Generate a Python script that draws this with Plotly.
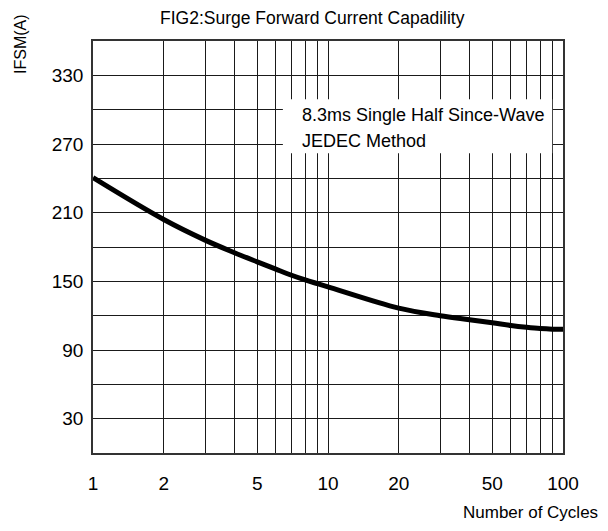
import plotly.graph_objects as go

# data
cycles = [1, 2, 3, 4, 5, 6, 7, 8, 9, 10, 20, 30, 40, 50, 60, 70, 80, 90, 100]
ifsm = [240.6, 204, 186, 175, 167, 160.6, 155.3, 151.2, 148, 145.2,
        126.6, 120, 116.5, 113.8, 111.4, 109.8, 108.7, 108.2, 108.2]

x_tickvals = [1, 2, 3, 4, 5, 6, 7, 8, 9, 10, 20, 30, 40, 50, 60, 70, 80, 90, 100]
x_ticktext = ["1", "2", "", "", "5", "", "", "", "", "10", "20", "", "", "50", "", "", "", "", "100"]
y_tickvals = [0, 30, 60, 90, 120, 150, 180, 210, 240, 270, 300, 330, 360]
y_ticktext = ["", "30", "", "90", "", "150", "", "210", "", "270", "", "330", ""]

title_text = "FIG2:Surge Forward Current Capadility"
x_title = "Number of Cycles"
y_title = "IFSM(A)"
note_lines = ["8.3ms Single Half Since-Wave", "JEDEC Method"]

FONT = "Liberation Sans, Arial, sans-serif"

fig = go.Figure()
fig.add_trace(go.Scatter(
    x=cycles, y=ifsm, mode="lines",
    line=dict(color="black", width=5, shape="spline", smoothing=1.0),
    showlegend=False, hoverinfo="skip",
))

axis_common = dict(
    showgrid=True, gridcolor="#1a1a1a", gridwidth=1,
    showline=True, linecolor="#333", linewidth=1.5, mirror=True,
    ticks="", zeroline=False,
    tickfont=dict(family=FONT, size=19, color="black"),
)

fig.update_xaxes(type="log", range=[0, 2], tickmode="array",
                 tickvals=x_tickvals, ticktext=x_ticktext, ticklabelstandoff=12,
                 **axis_common)
fig.update_yaxes(range=[0, 360], tickmode="array",
                 tickvals=y_tickvals, ticktext=y_ticktext, ticklabelstandoff=4,
                 **axis_common)

# white note box over the grid
fig.add_shape(type="rect", xref="x domain", yref="y",
              x0=0.404, x1=0.977, y0=262, y1=309,
              fillcolor="white", line=dict(width=0), layer="above")
fig.add_annotation(xref="x domain", yref="y", x=0.441, y=295.6,
                   text=note_lines[0], showarrow=False, xanchor="left", yanchor="middle",
                   font=dict(family=FONT, size=18, color="black"))
fig.add_annotation(xref="x domain", yref="y", x=0.441, y=272.3,
                   text=note_lines[1], showarrow=False, xanchor="left", yanchor="middle",
                   font=dict(family=FONT, size=18, color="black"))

# titles
fig.add_annotation(xref="paper", yref="paper", x=0.468, y=1.0, yshift=23,
                   text=title_text, showarrow=False, xanchor="center", yanchor="middle",
                   borderpad=0,
                   font=dict(family=FONT, size=17.5, color="black"))
fig.add_annotation(xref="paper", yref="paper", x=1.0, xshift=-33, y=0, yshift=-59,
                   text=x_title, showarrow=False, xanchor="center", yanchor="middle",
                   font=dict(family=FONT, size=17, color="black"))
fig.add_annotation(xref="paper", yref="paper", x=0, xshift=-73, y=1.0, yshift=-3,
                   text=y_title, showarrow=False, textangle=-90,
                   xanchor="center", yanchor="middle",
                   font=dict(family=FONT, size=16, color="black"))

fig.update_layout(
    width=600, height=523,
    margin=dict(l=85, r=45, t=33, b=78),
    paper_bgcolor="white", plot_bgcolor="white",
    showlegend=False,
)

fig.write_html("out.html")
